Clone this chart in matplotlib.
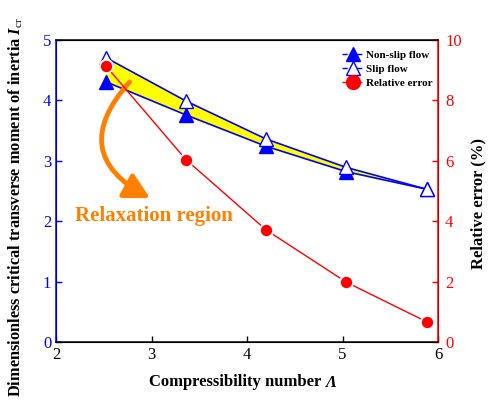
import matplotlib
matplotlib.use("Agg")
import matplotlib.pyplot as plt
from matplotlib.lines import Line2D

plt.rcParams['font.family'] = ['Liberation Serif', 'DejaVu Serif']
plt.rcParams['mathtext.fontset'] = 'custom'
plt.rcParams['mathtext.rm'] = 'Liberation Serif'
plt.rcParams['mathtext.it'] = 'Liberation Serif:italic:bold'
plt.rcParams['mathtext.bf'] = 'Liberation Serif:bold'

# numero di compressibilita'
lam = [2.52, 3.36, 4.20, 5.04, 5.88]
non_slip = [4.31, 3.76, 3.24, 2.82, 2.53]
slip = [4.71, 3.99, 3.36, 2.89, 2.53]
errore = [9.15, 6.04, 3.71, 1.98, 0.67]

blu = "#0000FF"
rosso = "#FF0000"
arancio = "#FF8000"

fig = plt.figure(figsize=(4.93, 4.00), dpi=100)
ax = fig.add_axes([0.1136, 0.145, 0.775, 0.755])
ax2 = ax.twinx()

# zona tra le due curve
ax.fill_between(lam, non_slip, slip, color="#FFFF00", zorder=1)
ax.plot(lam, non_slip, "-", color=blu, lw=1.2, marker="^", ms=9.5,
        mfc=blu, mec=blu, zorder=3)
ax.plot(lam, slip, "-", color=blu, lw=1.2, marker="^", ms=9.5,
        mfc="white", mec=blu, mew=1.0, zorder=3)

ax2.plot(lam, errore, "-", color=rosso, lw=1.0, marker="o", ms=9.5,
         mfc=rosso, mec="white", mew=1.3, zorder=3)

ax.set_xlim(2, 6)
ax.set_ylim(0, 5)
ax2.set_ylim(0, 10)
ax.set_xticks([2, 3, 4, 5, 6])
ax.set_yticks([0, 1, 2, 3, 4, 5])
ax2.set_yticks([0, 2, 4, 6, 8, 10])

ax.tick_params(axis="both", direction="in", labelsize=12, length=4, width=1)
ax.tick_params(axis="y", colors=blu)
ax2.tick_params(axis="y", direction="in", labelsize=12, length=4, width=1,
                colors=rosso, pad=5)

for s in ax2.spines.values():
    s.set_linewidth(1.1)
ax2.spines["left"].set_color(blu)
ax2.spines["right"].set_color(rosso)
ax2.spines["top"].set_color("black")
ax2.spines["bottom"].set_color("black")

ax.set_xlabel("Compressibility number", fontsize=12, fontweight="bold",
              labelpad=8)
ax.xaxis.set_label_coords(0.47, -0.105)
ax.set_ylabel(r"Dimensionless critical transverse moment of inertia $I_{\mathrm{cr}}$",
              fontsize=11.8, fontweight="bold")
ax.yaxis.set_label_coords(-0.08, 0.447)
ax2.set_ylabel("Relative error (%)", fontsize=12, fontweight="bold")
ax2.yaxis.set_label_coords(1.084, 0.46)

# lettera greca in corsivo subito dopo l'etichetta x
fig.canvas.draw()
bb = ax.xaxis.label.get_window_extent()
fig.text(bb.x1 + 4, bb.y0 + 3, "Λ", fontsize=12, fontweight="bold",
         fontstyle="italic", transform=None, ha="left", va="baseline")

# freccia curva e testo
ax.annotate("", xy=(3.01, 2.36), xytext=(2.79, 4.34),
            arrowprops=dict(arrowstyle="-|>,head_length=1.5,head_width=0.8",
                            color=arancio, lw=3.5,
                            connectionstyle="arc3,rad=0.65"), zorder=5)
ax.text(2.198, 2.08, "Relaxation region", color=arancio, fontsize=15,
        fontweight="bold", va="center", ha="left")

maniglie = [
    Line2D([], [], color=blu, lw=1.0, ls="--", marker="^", ms=10, mfc=blu, mec=blu),
    Line2D([], [], color=blu, lw=1.0, ls="--", marker="^", ms=10, mfc="white", mec=blu),
    Line2D([], [], color=rosso, lw=1.0, ls="--", marker="o", ms=10, mfc=rosso, mec=rosso),
]
ax2.legend(maniglie, ["Non-slip flow", "Slip flow", "Relative error"],
           loc="upper right", bbox_to_anchor=(1.013, 1.0), frameon=False,
           handlelength=2.0, handletextpad=0.2,
           labelspacing=0.4, borderaxespad=0.5,
           prop={"family": "Liberation Serif", "weight": "bold", "size": 8})

fig.savefig("out.png", dpi=100)
